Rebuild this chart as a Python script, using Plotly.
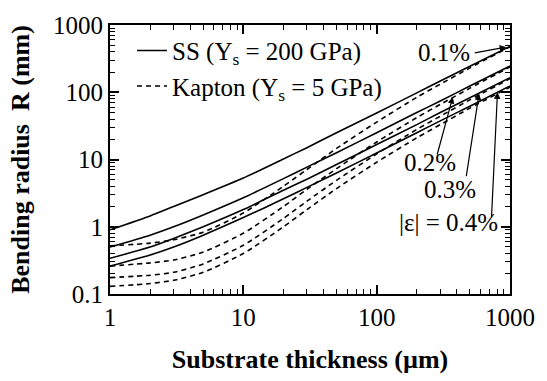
import plotly.graph_objects as go

thickness = [1, 2, 3, 5, 10, 20, 30, 50, 100, 200, 300, 500, 1000]

ss_01 = [0.9, 1.45, 2.0, 3.0, 5.3, 10.2, 15.0, 25, 49, 98, 147, 243, 480]
ss_02 = [0.5, 0.75, 1.0, 1.5, 2.7, 5.2, 7.7, 12.6, 25, 50, 74, 124, 245]
ss_03 = [0.34, 0.5, 0.67, 1.0, 1.8, 3.5, 5.1, 8.4, 16.7, 33, 50, 83, 165]
ss_04 = [0.26, 0.38, 0.5, 0.75, 1.37, 2.6, 3.85, 6.3, 12.5, 25, 37.5, 62, 124]

kap_01 = [0.52, 0.57, 0.64, 0.83, 1.6, 4.0, 7.1, 14.6, 36, 84, 132, 230, 475]
kap_02 = [0.26, 0.29, 0.32, 0.42, 0.8, 2.0, 3.6, 7.3, 18.2, 42, 66, 115, 238]
kap_03 = [0.175, 0.19, 0.21, 0.28, 0.53, 1.33, 2.4, 4.9, 12.1, 28, 44, 77, 159]
kap_04 = [0.13, 0.143, 0.16, 0.21, 0.4, 1.0, 1.8, 3.7, 9.1, 21, 33, 58, 119]

x_ticks = [1, 10, 100, 1000]
x_ticklabels = ["1", "10", "100", "1000"]
y_ticks = [0.1, 1, 10, 100, 1000]
y_ticklabels = ["0.1", "1", "10", "100", "1000"]

FONT = "Liberation Serif, Times New Roman, serif"

fig = go.Figure()

ss_series = [ss_01, ss_02, ss_03, ss_04]
kap_series = [kap_01, kap_02, kap_03, kap_04]

for i, ys in enumerate(ss_series):
    fig.add_trace(go.Scatter(
        x=thickness, y=ys, mode="lines",
        line=dict(color="black", width=1.6, shape="spline", smoothing=0.6),
        name="SS (Y<sub>s</sub> = 200 GPa)",
        legendgroup="ss", showlegend=(i == 0)))

for i, ys in enumerate(kap_series):
    fig.add_trace(go.Scatter(
        x=thickness, y=ys, mode="lines",
        line=dict(color="black", width=1.6, dash="5px,4px", shape="spline", smoothing=0.6),
        name="Kapton (Y<sub>s</sub> = 5 GPa)",
        legendgroup="kap", showlegend=(i == 0)))

axis_common = dict(
    type="log", showgrid=False, zeroline=False,
    showline=True, linecolor="black", linewidth=2, mirror="allticks",
    ticks="inside", ticklen=9, tickwidth=1.6, tickcolor="black",
    tickmode="array",
    minor=dict(ticks="inside", ticklen=5, tickwidth=1.3, tickcolor="black",
               showgrid=False, dtick="D1"),
    tickfont=dict(family=FONT, size=25, color="black"),
)

fig.update_layout(
    xaxis=dict(**axis_common, range=[0, 3], tickvals=x_ticks, ticktext=x_ticklabels,
               title=dict(text="<b>Substrate thickness (µm)</b>",
                          font=dict(family=FONT, size=26, color="black"), standoff=20)),
    yaxis=dict(**axis_common, range=[-1, 3], tickvals=y_ticks, ticktext=y_ticklabels,
               title=dict(text="<b>Bending radius  R (mm)</b>",
                          font=dict(family=FONT, size=26, color="black"), standoff=16)),
)

annos = []
arrow_specs = [
    (2.972, 2.671, -33, 6),
    (2.571, 1.929, -16, 59),
    (2.768, 1.98, -13, 84),
    (2.906, 2.0, -6, 126),
]
for hx, hy, ax, ay in arrow_specs:
    annos.append(dict(x=hx, y=hy, xref="x", yref="y", text="", showarrow=True,
                      ax=ax, ay=ay, arrowhead=2, arrowsize=1.1, arrowwidth=1.2,
                      arrowcolor="black", standoff=0, startstandoff=0))

labels = [
    ("0.1%", 0.835, 0.897),
    ("0.2%", 0.799, 0.490),
    ("0.3%", 0.850, 0.387),
    ("|ε| = 0.4%", 0.845, 0.267),
]
for t, px, py in labels:
    annos.append(dict(x=px, y=py, xref="paper", yref="paper", text=t, showarrow=False,
                      xanchor="center", yanchor="middle",
                      font=dict(family=FONT, size=25, color="black")))

fig.update_layout(
    width=547, height=381,
    margin=dict(l=110, r=25, t=23, b=66),
    paper_bgcolor="white", plot_bgcolor="white",
    annotations=annos,
    legend=dict(x=0.055, y=0.99, xanchor="left", yanchor="top",
                bgcolor="rgba(0,0,0,0)", borderwidth=0,
                font=dict(family=FONT, size=25, color="black"),
                tracegroupgap=0, itemwidth=30),
    showlegend=True,
)

fig.write_html("out.html")
